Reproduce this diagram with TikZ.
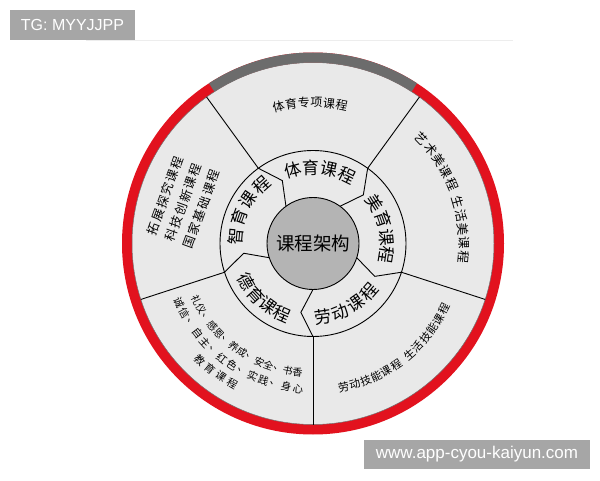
\documentclass[tikz,border=0pt]{standalone}
\usepackage{fontspec}
\setmainfont{Liberation Sans}
\newfontfamily\cjk{Noto Sans CJK SC}
\definecolor{ringred}{RGB}{226,18,30}
\definecolor{ringgray}{RGB}{108,108,108}
\definecolor{discfill}{RGB}{233,233,233}
\definecolor{hubfill}{RGB}{180,180,180}
\definecolor{markgray}{RGB}{166,166,166}
% characters placed along an arc: name, radius, start angle, step, rotation offset, size, chars
\newcommand{\arctext}[7]{%
  \foreach \ch [count=\i from 0] in {#7} {%
    \pgfmathsetmacro\ang{#3+\i*(#4)}%
    \node[txt, font=\cjk\fontsize{#6}{#6}\selectfont, rotate={\ang+(#5)}] (#1-\i) at (\ang:#2) {\ch};
  }%
}
% characters placed along a straight line: name, x, y, direction, step, size, chars
\newcommand{\linetext}[7]{%
  \foreach \ch [count=\i from 0] in {#7} {%
    \node[txt, font=\cjk\fontsize{#6}{#6}\selectfont, rotate=#4] (#1-\i) at ({#2+\i*(#5)*cos(#4)},{#3+\i*(#5)*sin(#4)}) {\ch};
  }%
}
\begin{document}
\begin{tikzpicture}[x=1pt,y=1pt,
  txt/.style={inner sep=0pt, outer sep=0pt, anchor=center},
  spoke/.style={draw=black, line width=0.9pt},
  wmbox/.style={fill=markgray, text=white, inner sep=0pt}]
\useasboundingbox (0,0) rectangle (600,480);
\fill[white] (0,0) rectangle (600,480);
\draw[black!7, line width=1.2pt] (86,439.5) -- (513,439.5);
\begin{scope}[shift={(313,236.5)}]
  \fill[discfill] (0,0) circle (181);
  \draw[ringred, line width=10pt] (0,0) circle (186);
  \draw[ringgray, line width=10pt] (57:186) arc (57:123:186);
  \draw[black!55, line width=0.5pt] (0,0) circle (181);
  \foreach \a in {126,54,-18,-90,198} \draw[spoke] (\a:181) -- (\a:93);
  \draw[spoke] (0,0) circle (93);
  \foreach \a in {126,54,-18,-90,198} \draw[spoke, line join=miter] (\a:93) -- (\a-10:70) -- (\a:46);
  \filldraw[fill=hubfill, draw=black, line width=0.9pt] (0,0) circle (46);
  \node[txt, font=\cjk\fontsize{18.5}{20}\selectfont] (hub) at (0,0) {课程架构};
  % middle ring labels
  \arctext{m1}{76}{105}{-13.7}{-90}{17}{体,育,课,程}
  \arctext{m2}{78}{175}{-14.5}{-90}{17}{智,育,课,程}
  \arctext{m3}{74}{33}{-14}{-90}{17}{美,育,课,程}
  \arctext{m4}{74}{-82}{13.7}{90}{17}{劳,动,课,程}
  \arctext{m5}{77}{210}{12}{90}{17}{德,育,课,程}
  % outer ring labels
  \arctext{o1}{141}{104.1}{-5.16}{-90}{12}{体,育,专,项,课,程}
  \arctext{o2a}{151}{44}{-5.25}{-90}{12.5}{艺,术,美,课,程}
  \arctext{o2b}{151}{16}{-5.25}{-90}{12.5}{生,活,美,课,程}
  \arctext{o3a}{147}{-78}{4.5}{90}{11}{劳,动,技,能,课,程}
  \arctext{o3b}{147}{-49}{4.5}{90}{11}{生,活,技,能,课,程}
  \arctext{o4a}{130}{206}{4.4}{90}{10}{礼,仪,、,感,恩,、,养,成,、,安,全,、,书,香}
  \arctext{o4b}{146}{204}{4.62}{90}{10.5}{诚,信,、,自,主,、,红,色,、,实,践,、,身,心}
  \arctext{o4c}{162}{226}{4.67}{90}{10.5}{教,育,课,程}
  \linetext{o5a}{-159.8}{14.8}{70}{14}{12.5}{拓,展,探,究,课,程}
  \linetext{o5b}{-141.5}{8.1}{70}{14}{12.5}{科,技,创,新,课,程}
  \linetext{o5c}{-123.2}{1.4}{70}{14}{12.5}{国,家,基,础,课,程}
\end{scope}
\node[wmbox, font=\fontsize{16}{16}\selectfont, minimum width=125pt, minimum height=30pt] (tg) at (72.5,455) {TG: MYYJJPP};
\node[wmbox, font=\fontsize{17}{17}\selectfont, minimum width=226pt, minimum height=29pt] (www) at (477,25.5) {www.app-cyou-kaiyun.com};
\end{tikzpicture}
\end{document}
